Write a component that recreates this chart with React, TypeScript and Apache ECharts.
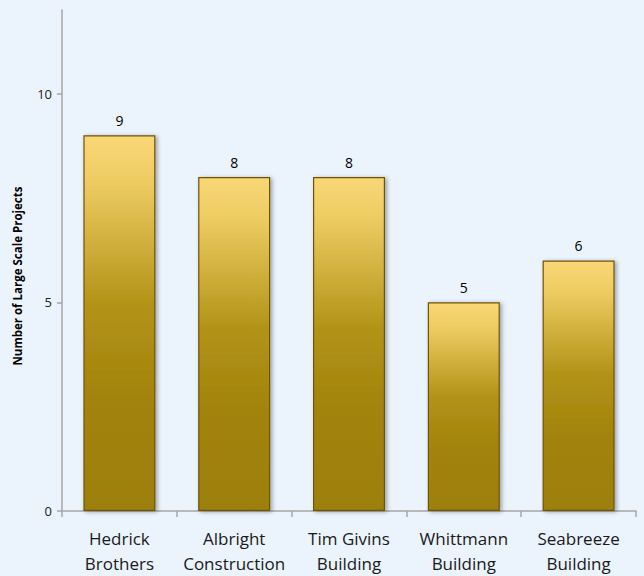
import React, { useEffect, useRef } from "react";
import * as echarts from "echarts";

const categories = ["Hedrick\nBrothers", "Albright\nConstruction", "Tim Givins\nBuilding", "Whittmann\nBuilding", "Seabreeze\nBuilding"];
const projectCounts = [9, 8, 8, 5, 6];
const yTicks = { min: 0, max: 12, interval: 5 };
const yTickValues = [0, 5, 10];
const yAxisTitle = "Number of Large Scale Projects";

export default function App() {
  const ref = useRef<HTMLDivElement>(null);
  useEffect(() => {
    const chart = echarts.init(ref.current!, null, { renderer: "svg" });
    const font = "'Open Sans', 'Noto Sans', sans-serif";
    chart.setOption({
      animation: false,
      backgroundColor: "#EBF3FC",
      grid: { left: 62, right: 8, top: 10, bottom: 62, containLabel: false },
      graphic: [
        {
          type: "text",
          x: 17,
          y: 276,
          rotation: Math.PI / 2,
          style: {
            text: yAxisTitle,
            fontSize: 11.5,
            fontWeight: "bold",
            fill: "#000",
            fontFamily: font,
            align: "center",
            verticalAlign: "middle",
          },
        },
      ],
      xAxis: {
        type: "category",
        data: categories,
        axisLine: { show: true, lineStyle: { color: "#A6A6A6", width: 1.5 } },
        axisTick: { show: true, length: 6, alignWithLabel: false, lineStyle: { color: "#A6A6A6", width: 1.5 } },
        axisLabel: { color: "#1a1a1a", fontSize: 17, fontFamily: font, lineHeight: 25, margin: 15, interval: 0 },
      },
      yAxis: {
        type: "value",
        min: yTicks.min,
        max: yTicks.max,
        interval: yTicks.interval,
        splitLine: { show: false },
        axisLine: { show: true, lineStyle: { color: "#A6A6A6", width: 1.5 } },
        axisTick: { show: true, length: 5, customValues: yTickValues, lineStyle: { color: "#A6A6A6", width: 1.5 } },
        axisLabel: { color: "#222", fontSize: 13, fontFamily: font, margin: 10, customValues: yTickValues },
      },
      series: [
        {
          type: "bar",
          data: projectCounts,
          barWidth: 72,
          itemStyle: {
            color: new echarts.graphic.LinearGradient(0, 0, 0, 1, [
              { offset: 0, color: "#F9D776" },
              { offset: 0.12, color: "#EECC63" },
              { offset: 0.45, color: "#B39317" },
              { offset: 0.7, color: "#A2830C" },
              { offset: 1, color: "#9D7F0B" },
            ]),
            borderColor: "#6E5505",
            borderWidth: 1.2,
            shadowColor: "rgba(0,0,0,0.35)",
            shadowBlur: 4,
            shadowOffsetX: 2,
            shadowOffsetY: 1,
          },
          label: { show: true, position: "top", distance: 8, fontSize: 14, color: "#000", fontFamily: font },
        },
      ],
    });
    return () => chart.dispose();
  }, []);
  return <div ref={ref} style={{ position: "fixed", left: 0, top: 0, width: 644, height: 576 }} />;
}
